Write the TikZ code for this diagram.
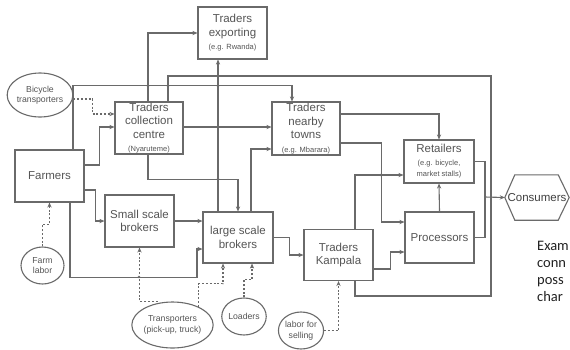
\documentclass[tikz,border=0pt]{standalone}
\usepackage{fontspec}
\setmainfont{Liberation Sans}
\newfontfamily\calib{Carlito}
\usetikzlibrary{arrows.meta,shapes.geometric,calc}
\definecolor{ln}{HTML}{6A6A6A}
\definecolor{txt}{HTML}{555555}
\definecolor{side}{HTML}{222222}
\newcommand{\sml}{\fontsize{7.5}{9}\selectfont}
\begin{document}
\begin{tikzpicture}[x=1pt,y=-1pt,
  every node/.style={font=\fontsize{11.5}{13.5}\selectfont, text=txt, align=center, inner sep=0pt},
  box/.style={draw=ln, line width=1.1pt, rectangle},
  ell/.style={draw=ln, line width=1.1pt, ellipse, font=\fontsize{8.7}{10.5}\selectfont},
  conn/.style={draw=ln, line width=1.1pt},
  arr/.style={conn, -{Stealth[length=5pt,width=4.2pt]}},
  dotl/.style={dash pattern=on 2pt off 1.8pt},
  jn/.style={fill=ln, draw=none}
]
\useasboundingbox (0,0) rectangle (570,349);
\fill[white] (0,0) rectangle (570,349);

% boxes
\node[box, minimum width=69, minimum height=52] (exp) at (232.5,33) {Traders\\exporting\\{\sml (e.g. Rwanda)}};
\node[box, minimum width=68, minimum height=52] (coll) at (149,128) {Traders\\collection\\centre\\{\sml (Nyaruteme)}};
\node[box, minimum width=68, minimum height=53] (nearby) at (306,128.5) {Traders\\nearby\\towns\\{\sml (e.g. Mbarara)}};
\node[box, minimum width=70, minimum height=43] (retail) at (439,161.5) {Retailers\\[-1pt]{\sml (e.g. bicycle,}\\[-2pt]{\sml market stalls)}};
\node[box, minimum width=69, minimum height=51] (proc) at (439.5,237.5) {Processors};
\node[box, minimum width=69, minimum height=52] (farm) at (49.5,176) {Farmers};
\node[box, minimum width=69, minimum height=52] (small) at (139.5,221) {Small scale\\brokers};
\node[box, minimum width=70, minimum height=51] (large) at (238,237.5) {large scale\\brokers};
\node[box, minimum width=69, minimum height=51] (kamp) at (338.5,255) {Traders\\Kampala};

% consumers hexagon
\node[minimum width=64, minimum height=45, text=txt!75!black] (cons) at (537,197.5) {Consumers};
\draw[draw=ln, line width=1.1pt] (cons.west) -- ([xshift=10pt]cons.north west) -- ([xshift=-11pt]cons.north east) -- (cons.east) -- ([xshift=-11pt]cons.south east) -- ([xshift=10pt]cons.south west) -- cycle;

% ellipses
\node[ell, minimum width=60, minimum height=44] (bike) at (40,95) {Bicycle\\transporters};
\node[ell, minimum width=43, minimum height=37] (flab) at (42.5,265.5) {Farm\\labor};
\node[ell, minimum width=69, minimum height=46] (trans) at (172.5,325) {Transporters\\(pick-up, truck)};
\node[ell, minimum width=36, minimum height=37] (load) at (244,316.5) {Loaders};
\node[ell, minimum width=42, minimum height=37] (slab) at (301,330.5) {labor for\\selling};

% side text
\node[font=\calib\fontsize{14.5}{17}\selectfont, text=side, align=left, anchor=north west] (side) at (537,241) {Exam\\conn\\poss\\char};

% junction coordinates
\coordinate (cj) at (485,197);
\coordinate (rt) at (491,76);
\coordinate (rb) at (491,296);

% connectors
\draw[arr] ([xshift=-1pt]coll.north) |- (exp.west);
\draw[arr] ([xshift=-20pt]large.north) -- ([xshift=-20pt]large.north |- exp.south);
\draw[arr] ([xshift=23.5pt]farm.north) -- ++(0,-64) -| ([xshift=-14pt]nearby.north);
\draw[conn] ([xshift=19pt]coll.north) |- (rt) -- (rb) -| ([xshift=16.5pt]kamp.south);
\draw[arr] ([yshift=11pt]farm.east) -- ++(15,0) |- ([yshift=1pt]coll.west);
\draw[arr] ([yshift=1pt]coll.east) -- ([yshift=1pt]coll.east -| nearby.west);
\draw[arr] ([xshift=-1pt]coll.south) -- ++(0,25) -| (large.north);
\draw[arr] ([xshift=13pt]large.north) |- ([yshift=-20.5pt]nearby.west);
\draw[arr] ([yshift=14.5pt]nearby.east) -| (retail.north);
\draw[arr] ([yshift=-14.5pt]nearby.east) -- ++(41,0) |- ([yshift=15.5pt]proc.west);
\draw[arr] ([xshift=16.5pt]kamp.north) |- ([yshift=-13.5pt]retail.west);
\draw[arr] ([yshift=-14pt]kamp.east) -- ++(17,0) |- ([yshift=-14.5pt]proc.west);
\draw[arr] (proc.north) -- (retail.south);
\draw[conn] (retail.east) -| (cj);
\draw[conn] (proc.east) -| (cj);
\draw[arr] (cj) -- (cons.west);
\draw[arr] ([yshift=-14pt]farm.east) -- ++(11,0) |- (small.west);
\draw[arr] (small.east) -- (small.east -| large.west);
\draw[arr] ([xshift=20.5pt]farm.south) -- ++(0,75) -- ++(127,0) |- ([yshift=-11.5pt]large.west);
\draw[arr] (large.east) -- ++(16,0) |- (kamp.west);

% dotted support flows
\draw[arr, dotl] ([yshift=-4pt]bike.east) -- ++(19,0) |- ([yshift=14pt]coll.west);
\draw[arr, dotl] (flab.north) -- ++(0,-22) -| (farm.south);
\draw[arr, dotl] ([xshift=-15pt]trans.north) -| (small.south);
\draw[arr, dotl] (trans.35) -- ++(0,-23) -| ([xshift=-15pt]large.south);
\draw[arr, dotl] (load.north) -- ++(0,-18) -| ([xshift=14pt]large.south);
\draw[arr, dotl] (slab.east) -| (kamp.south);

% crossing marks
\foreach \p in {(148,86),(168,86),(218,86),(218,76),(218,127),(218,179),(381,175),(139,277)}
  \fill[jn] \p circle (1.4);
\end{tikzpicture}
\end{document}
